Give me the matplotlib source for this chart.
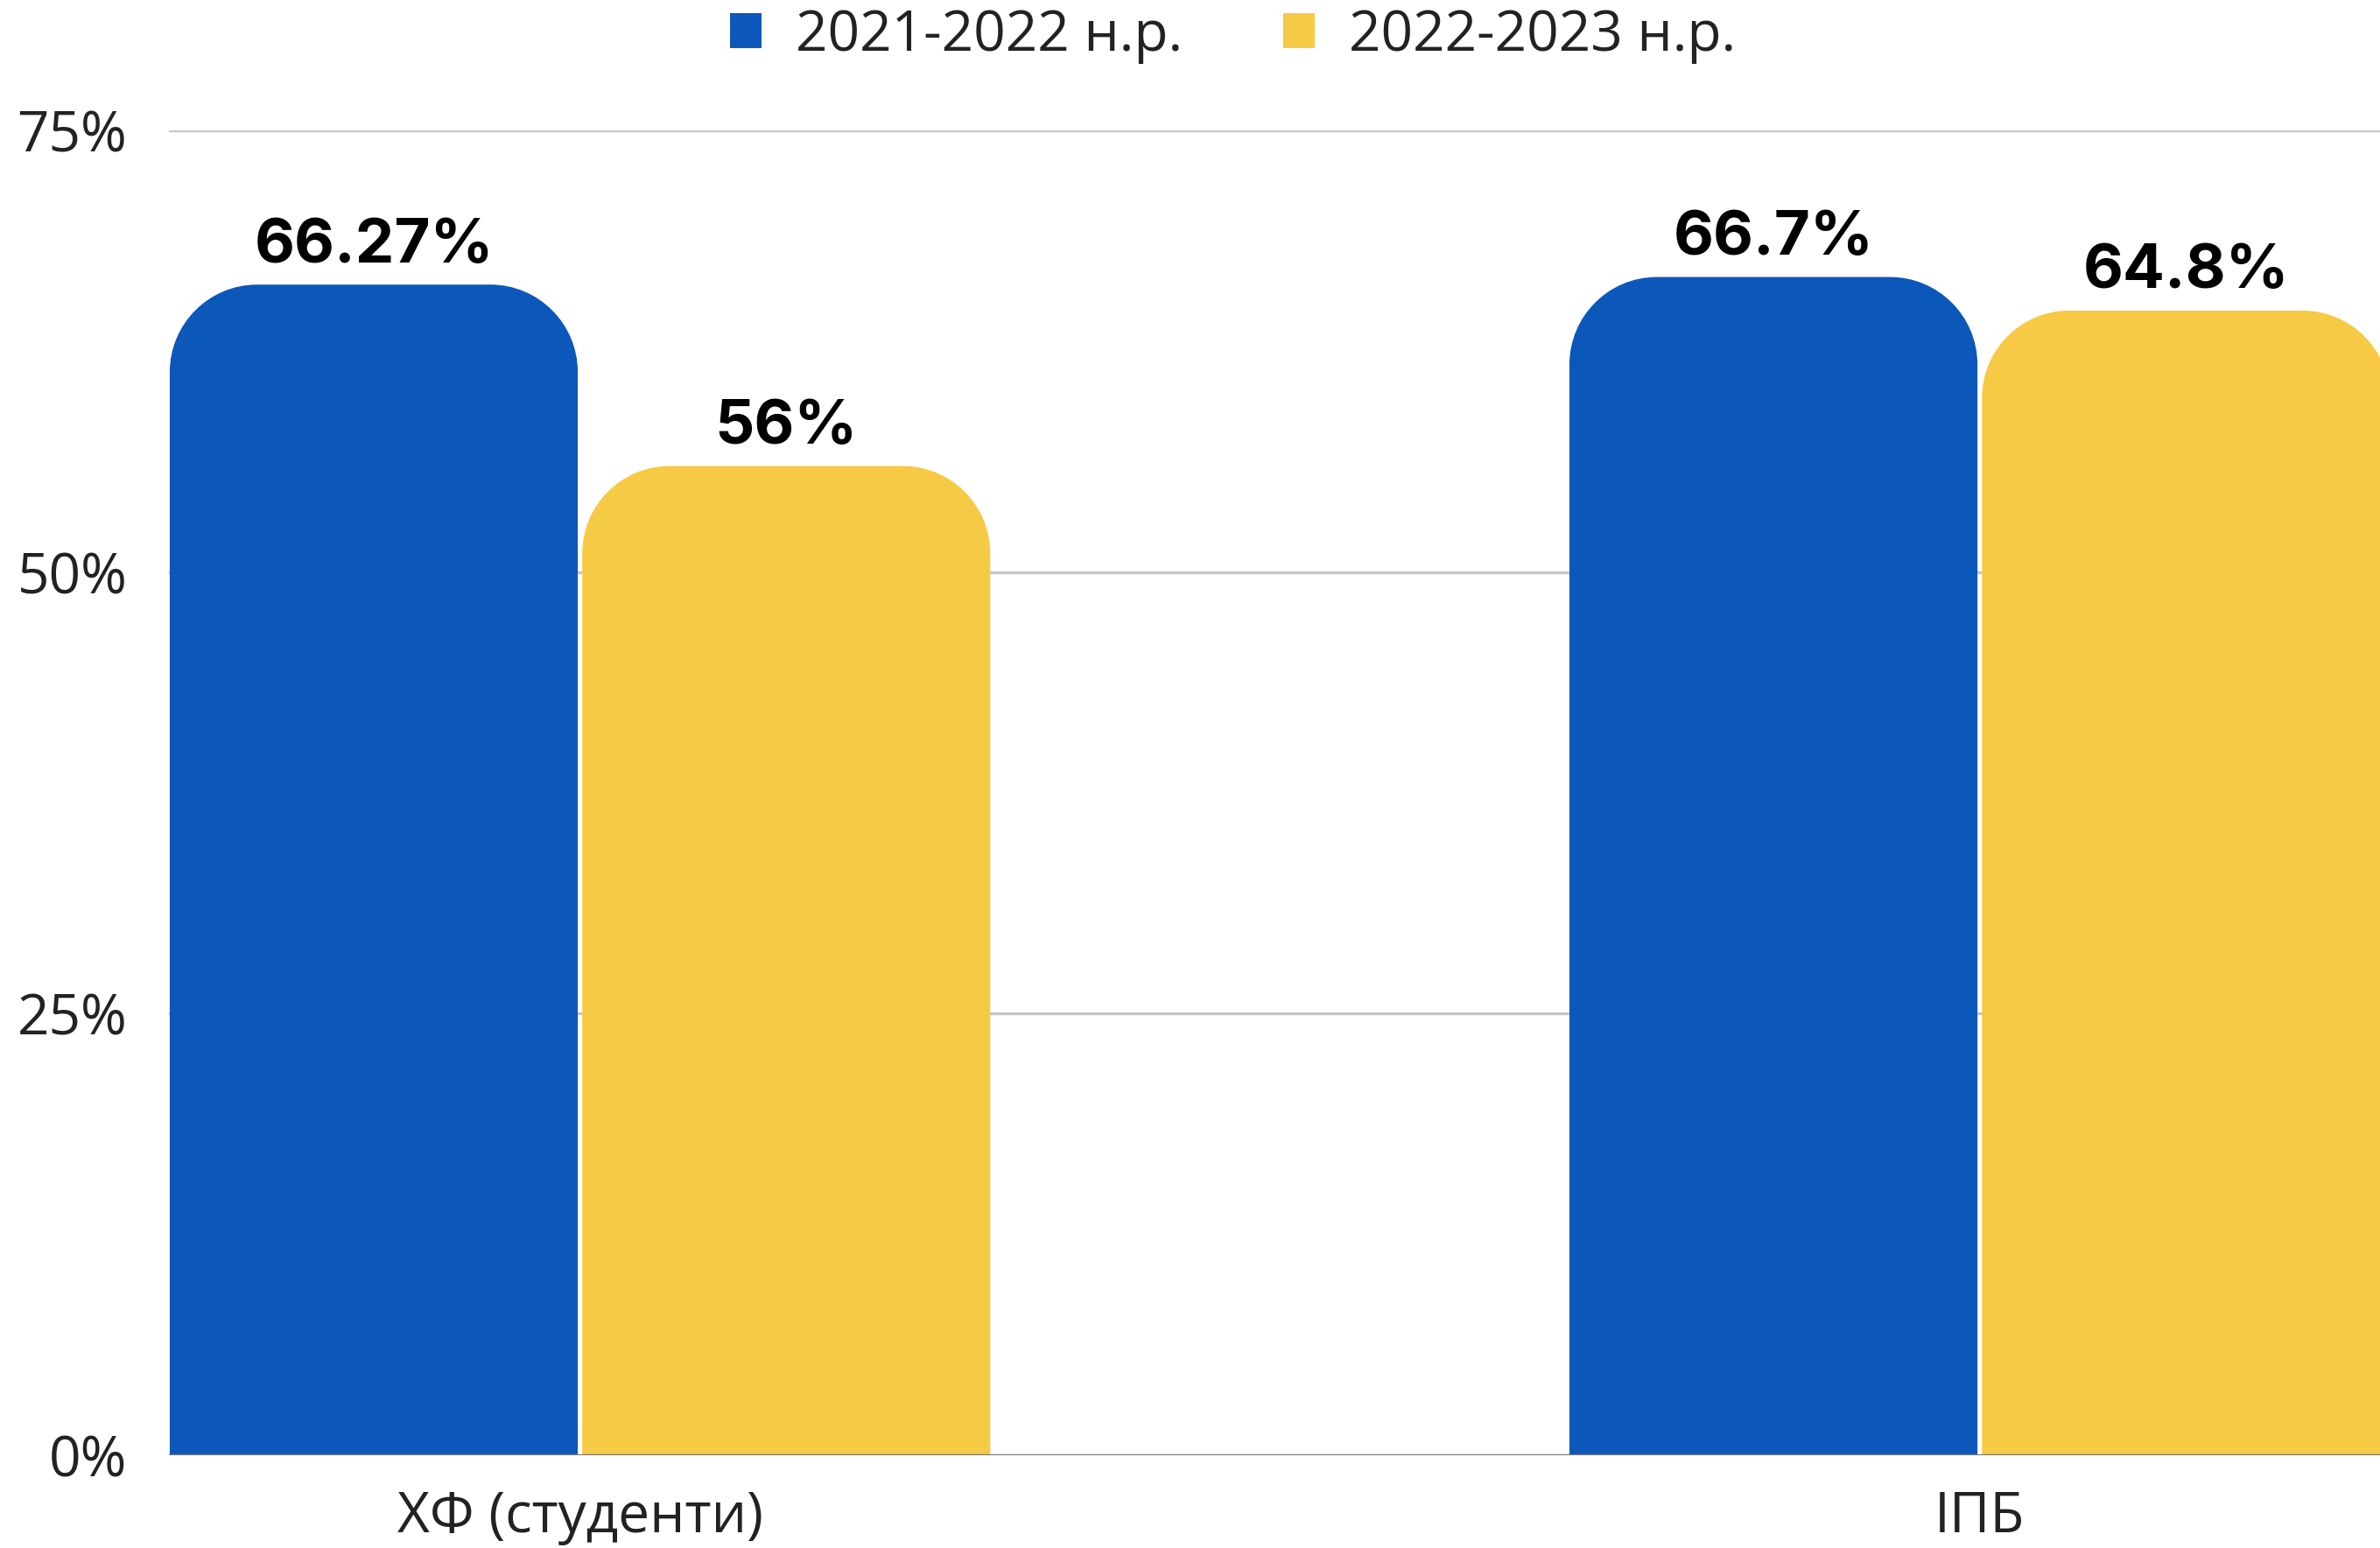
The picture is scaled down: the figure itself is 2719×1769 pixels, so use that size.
import matplotlib
matplotlib.use("Agg")
import matplotlib.pyplot as plt
from matplotlib.patches import PathPatch, Patch
from matplotlib.path import Path
import numpy as np

categories = ["ХФ (студенти)", "ІПБ"]
series_names = ["2021-2022 н.р.", "2022-2023 н.р."]
values_2021 = [66.27, 66.7]
values_2022 = [56.0, 64.8]
value_labels_2021 = ["66.27%", "66.7%"]
value_labels_2022 = ["56%", "64.8%"]
yticks = [0, 25, 50, 75]
ytick_labels = ["0%", "25%", "50%", "75%"]

BLUE = "#0C57BA"
YELLOW = "#F6CA45"

W, H, DPI = 2719, 1769, 100
fig = plt.figure(figsize=(W / DPI, H / DPI), dpi=DPI)
fig.patch.set_facecolor("white")

left_px, right_px = 192.5, 2719
bottom_px, top_px = 1663, 149
ax = fig.add_axes([left_px / W, 1 - bottom_px / H,
                   (right_px - left_px) / W, (bottom_px - top_px) / H])
ax.set_xlim(-0.294, 1.286)
ax.set_ylim(0, 75)

x = np.arange(len(categories))
bw = 0.2915
gap = 0.0016

bars1 = ax.bar(x - bw / 2 - gap, values_2021, width=bw, color=BLUE, zorder=2)
bars2 = ax.bar(x + bw / 2 + gap, values_2022, width=bw, color=YELLOW, zorder=2)

# convert a corner radius of ~100 px into data units
r_px = 100
p0 = ax.transData.transform((0, 0))
p1 = ax.transData.transform((1, 1))
rx = r_px / (p1[0] - p0[0])
ry = r_px / (p1[1] - p0[1])
k = 0.5523


def rounded_top(rect, color):
    x0, y0 = rect.get_x(), rect.get_y()
    w, h = rect.get_width(), rect.get_height()
    x1, y1 = x0 + w, y0 + h
    verts = [
        (x0, y0),
        (x0, y1 - ry),
        (x0, y1 - ry + k * ry), (x0 + rx - k * rx, y1), (x0 + rx, y1),
        (x1 - rx, y1),
        (x1 - rx + k * rx, y1), (x1, y1 - ry + k * ry), (x1, y1 - ry),
        (x1, y0),
        (x0, y0),
    ]
    codes = [Path.MOVETO, Path.LINETO,
             Path.CURVE4, Path.CURVE4, Path.CURVE4,
             Path.LINETO,
             Path.CURVE4, Path.CURVE4, Path.CURVE4,
             Path.LINETO, Path.CLOSEPOLY]
    patch = PathPatch(Path(verts, codes), facecolor=color, edgecolor="none", zorder=2)
    ax.add_patch(patch)
    rect.set_visible(False)


for b in bars1:
    rounded_top(b, BLUE)
for b in bars2:
    rounded_top(b, YELLOW)

# value labels
for bars, labels in ((bars1, value_labels_2021), (bars2, value_labels_2022)):
    for b, lab in zip(bars, labels):
        ax.annotate(lab, (b.get_x() + b.get_width() / 2, b.get_height()),
                    xytext=(0, 18.5), textcoords="offset points",
                    ha="center", va="baseline", fontsize=51, fontweight="bold",
                    family="Inter", color="black", zorder=3)

# grid
ax.set_yticks(yticks)
ax.set_yticklabels(ytick_labels)
for yv in yticks[1:]:
    ax.axhline(yv, color="#C6C6C6", linewidth=2.4, zorder=1)
ax.axhline(0, color="#777777", linewidth=2.4, zorder=4)

ax.set_xticks(x)
ax.set_xticklabels(categories)
for spine in ax.spines.values():
    spine.set_visible(False)
ax.tick_params(axis="y", length=0, pad=34, labelsize=46, labelcolor="#222222")
ax.tick_params(axis="x", length=0, pad=28, labelsize=46, labelcolor="#222222")
for t in ax.get_xticklabels() + ax.get_yticklabels():
    t.set_family("Open Sans")

handles = [Patch(facecolor=BLUE, edgecolor="none"), Patch(facecolor=YELLOW, edgecolor="none")]
leg = fig.legend(handles, series_names, loc="center", bbox_to_anchor=(0.518, 0.977),
                 ncol=2, frameon=False, handlelength=0.57, handleheight=0.57,
                 handletextpad=0.6, columnspacing=1.8,
                 prop={"family": "Open Sans", "size": 46})
for t in leg.get_texts():
    t.set_color("#222222")

fig.savefig("out.png", dpi=DPI, facecolor="white")
